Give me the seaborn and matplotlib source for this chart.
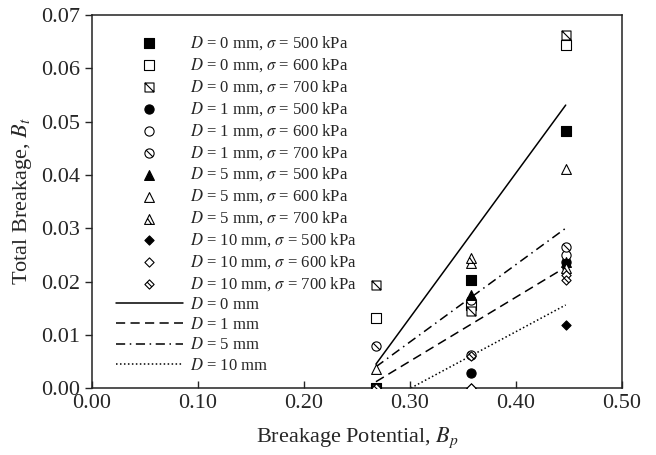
import numpy as np
import matplotlib
matplotlib.use('Agg')
import matplotlib.pyplot as plt
from matplotlib.path import Path
from matplotlib.ticker import FormatStrFormatter, MultipleLocator
import seaborn as sns

sns.set_theme(style='ticks')
plt.rcParams['font.family'] = ['Liberation Serif', 'DejaVu Serif']
plt.rcParams['mathtext.fontset'] = 'stix'

# breakage potential of the three tests per series
bp = [0.268, 0.358, 0.447]

# total breakage, one list per (D, sigma) series
bt_d0_500 = [0.0000, 0.0202, 0.0483]
bt_d0_600 = [0.0131, 0.0156, 0.0643]
bt_d0_700 = [0.0193, 0.0144, 0.0663]
bt_d1_500 = [0.0000, 0.0029, 0.0237]
bt_d1_600 = [0.0000, 0.0165, 0.0250]
bt_d1_700 = [0.0079, 0.0062, 0.0265]
bt_d5_500 = [0.0000, 0.0175, 0.0237]
bt_d5_600 = [0.0035, 0.0235, 0.0412]
bt_d5_700 = [0.0000, 0.0244, 0.0225]
bt_d10_500 = [0.0000, 0.0000, 0.0119]
bt_d10_600 = [0.0000, 0.0000, 0.0212]
bt_d10_700 = [0.0000, 0.0060, 0.0202]

# trend lines per D (value at start / end of fit range)
fit_bp = [0.268, 0.447]
fit_d0 = [0.0045, 0.0531]
fit_d1 = [0.0012, 0.0227]
fit_d5 = [0.0040, 0.0300]
fit_d10 = [-0.0035, 0.0156]

diameters = [0, 1, 5, 10]
stresses = [500, 600, 700]


def shape(kind, hatch=False):
  M, L, C = Path.MOVETO, Path.LINETO, Path.CLOSEPOLY
  if kind == 'o':
    base = Path.unit_circle()
    line = [(-0.707, 0.707), (0.707, -0.707)]
  elif kind == 's':
    base = Path([(-1, -1), (1, -1), (1, 1), (-1, 1), (-1, -1)], [M, L, L, L, C])
    line = [(-1, 1), (1, -1)]
  elif kind == '^':
    base = Path([(0, 1), (-1, -1), (1, -1), (0, 1)], [M, L, L, C])
    line = [(-0.4, 0.2), (0.4, -1)]
  else:
    base = Path([(0, 1), (1, 0), (0, -1), (-1, 0), (0, 1)], [M, L, L, L, C])
    line = [(-0.5, 0.5), (0.5, -0.5)]
  if hatch:
    return Path.make_compound_path(base, Path(line, [M, L]))
  return base


series = {
  (0, 500): bt_d0_500, (0, 600): bt_d0_600, (0, 700): bt_d0_700,
  (1, 500): bt_d1_500, (1, 600): bt_d1_600, (1, 700): bt_d1_700,
  (5, 500): bt_d5_500, (5, 600): bt_d5_600, (5, 700): bt_d5_700,
  (10, 500): bt_d10_500, (10, 600): bt_d10_600, (10, 700): bt_d10_700,
}
kinds = {0: 's', 1: 'o', 5: '^', 10: 'D'}
sizes = {0: 42, 1: 44, 5: 50, 10: 44}

fig = plt.figure(figsize=(6.56, 4.55), dpi=100)
ax = fig.add_axes([0.140, 0.147, 0.808, 0.820])

for (d, sig), vals in series.items():
  fill = 'black' if sig == 500 else 'white'
  mk = shape(kinds[d], hatch=(sig == 700))
  sns.scatterplot(x=bp, y=vals, marker=mk, s=sizes[d], color=fill,
                  edgecolor='black', linewidth=0.8, ax=ax, zorder=3,
                  label=r'$D$ = %d mm, $\sigma$ = %d kPa' % (d, sig))

styles = {0: '-', 1: (0, (6, 3.5)), 5: (0, (6, 3, 1, 3)), 10: (0, (1, 1.6))}
for d, fit in zip(diameters, [fit_d0, fit_d1, fit_d5, fit_d10]):
  sns.lineplot(x=fit_bp, y=fit, color='black', linewidth=1.1,
               linestyle=styles[d], ax=ax, label=r'$D$ = %d mm' % d)

ax.set_xlim(0, 0.5)
ax.set_ylim(0, 0.07)
ax.xaxis.set_major_locator(MultipleLocator(0.1))
ax.yaxis.set_major_locator(MultipleLocator(0.01))
ax.xaxis.set_major_formatter(FormatStrFormatter('%.2f'))
ax.yaxis.set_major_formatter(FormatStrFormatter('%.2f'))
ax.tick_params(axis='x', direction='in', length=5, width=1, labelsize=16,
               top=False, pad=4)
ax.tick_params(axis='y', direction='out', length=5, width=1, labelsize=16,
               right=False)
for spine in ax.spines.values():
  spine.set_visible(True)
  spine.set_edgecolor('#222222')
  spine.set_linewidth(1.1)

ax.set_xlabel(r'Breakage Potential, $B_p$', fontsize=16, labelpad=9)
ax.set_ylabel(r'Total Breakage, $B_t$', fontsize=16, labelpad=5)

ax.legend(loc='upper left', frameon=False, fontsize=12, handlelength=4.0,
          handletextpad=0.45, labelspacing=0.25, borderaxespad=0.9,
          bbox_to_anchor=(0.005, 1.006))

fig.savefig('out.png', dpi=100)
